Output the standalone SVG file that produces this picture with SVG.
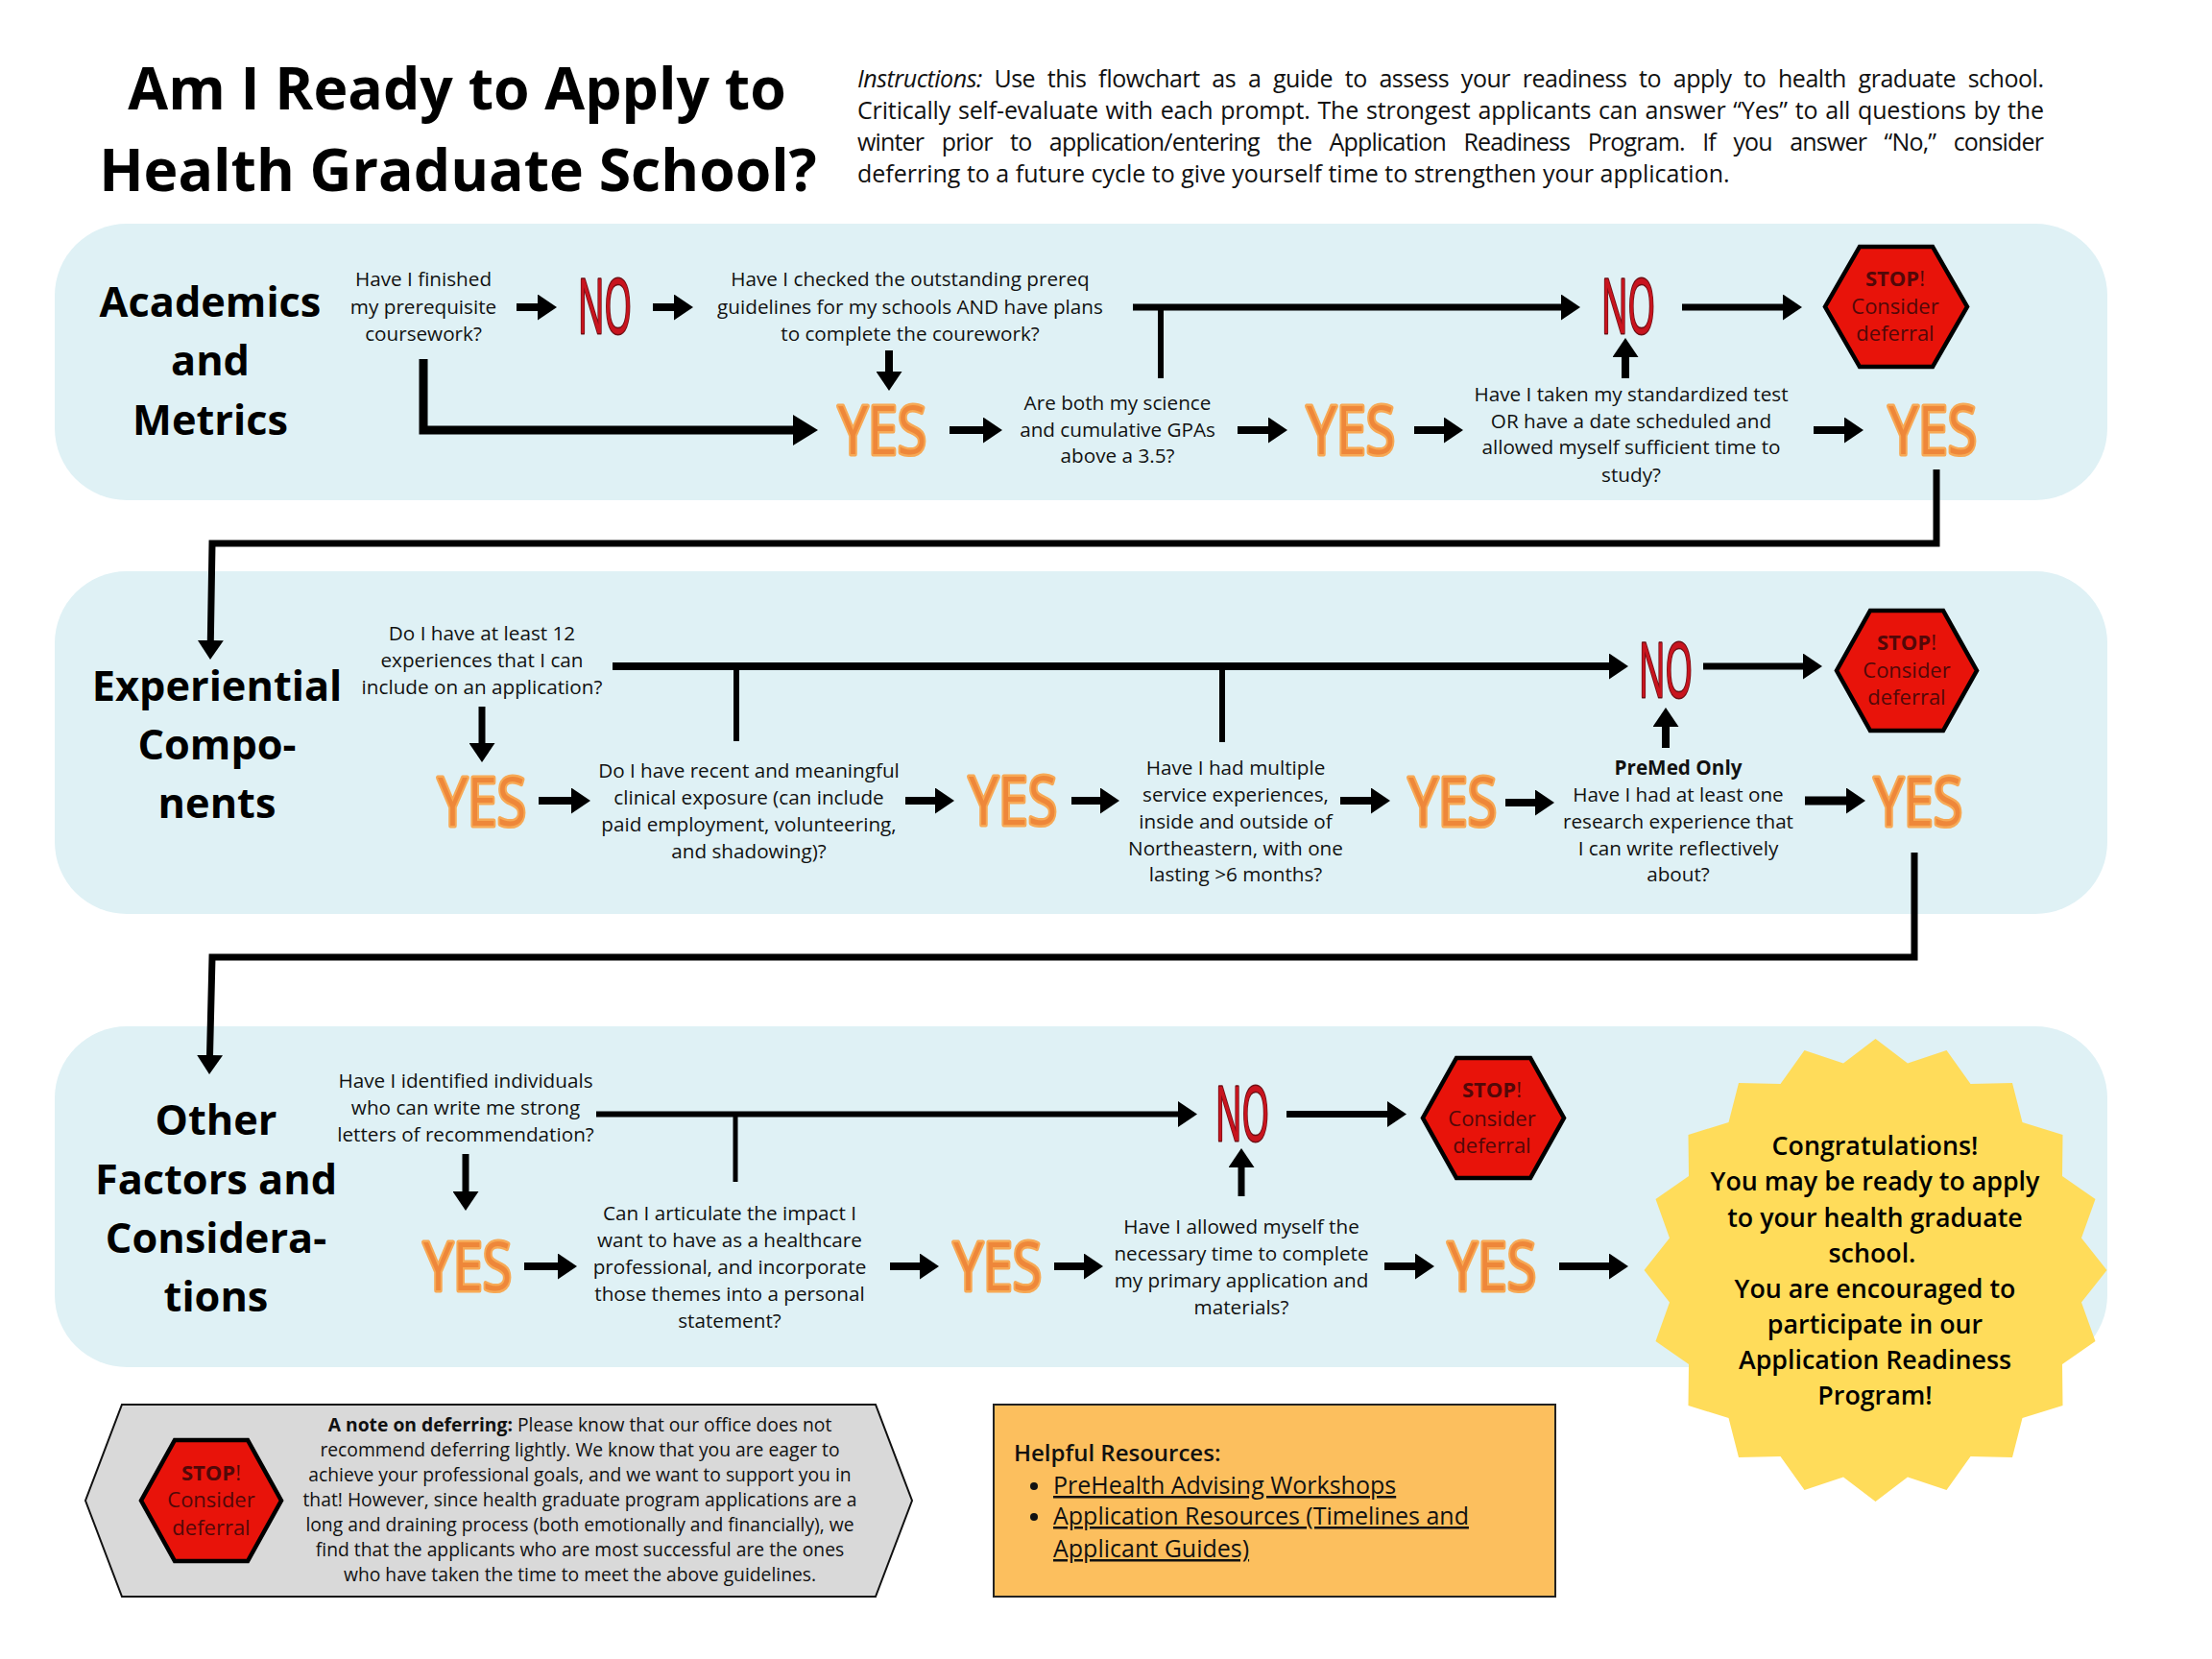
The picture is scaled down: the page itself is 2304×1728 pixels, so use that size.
<svg xmlns="http://www.w3.org/2000/svg" width="2304" height="1728" viewBox="0 0 2304 1728">
<defs>
<style>
text{font-family:"Open Sans","Noto Sans","Liberation Sans",sans-serif;fill:#111}
.title{font-size:60.7px;font-weight:700;text-anchor:middle;fill:#000}
.ins{font-size:25px}
.sec{font-size:43.3px;font-weight:700;text-anchor:middle;fill:#000}
.q{font-size:20.7px;text-anchor:middle}
.no{font-size:78px;fill:#c8141e;stroke:#6e0f14;stroke-width:3;stroke-linejoin:round;paint-order:stroke}
.yes{font-size:70px;font-weight:400;fill:#ee873a;stroke:#f7a955;stroke-width:5;stroke-linejoin:round;stroke-linecap:round;paint-order:stroke}
.hex{fill:#e8130a;stroke:#000;stroke-width:4.500}
.st{font-size:22px;text-anchor:middle;fill:#520808}
.panel{fill:#dff1f5}
.note{font-size:19.3px;text-anchor:middle}
.con{font-size:26.8px;font-weight:600;text-anchor:middle;fill:#000}
.res{font-size:25px}
.c{fill:none;stroke:#000;stroke-width:8}
.a{marker-end:url(#ah)}
.l{marker-end:url(#ahL)}
</style>
<marker id="ah" markerUnits="userSpaceOnUse" markerWidth="20" markerHeight="27" refX="1" refY="13.5" orient="auto"><path d="M0 0L20 13.5L0 27z" fill="#000"/></marker>
<marker id="ahL" markerUnits="userSpaceOnUse" markerWidth="26" markerHeight="32" refX="1" refY="16" orient="auto"><path d="M0 0L26 16L0 32z" fill="#000"/></marker>
</defs>
<rect width="2304" height="1728" fill="#fff"/>
<rect class="panel" x="57" y="233" width="2138" height="288" rx="75"/>
<rect class="panel" x="57" y="595" width="2138" height="357" rx="75"/>
<rect class="panel" x="57" y="1069" width="2138" height="355" rx="75"/>

<g id="title"><text class="title" x="476" y="114">Am I Ready to Apply to</text><text class="title" x="477" y="199">Health Graduate School?</text></g>
<g id="instructions">
<text class="ins" x="893" y="91" word-spacing="6.6" textLength="1236"><tspan font-style="italic">Instructions:</tspan> Use this flowchart as a guide to assess your readiness to apply to health graduate school.</text>
<text class="ins" x="893" y="124" word-spacing="1.4" textLength="1236">Critically self-evaluate with each prompt. The strongest applicants can answer “Yes” to all questions by the</text>
<text class="ins" x="893" y="157" word-spacing="12.8" textLength="1236">winter prior to application/entering the Application Readiness Program. If you answer “No,” consider</text>
<text class="ins" x="893" y="190">deferring to a future cycle to give yourself time to strengthen your application.</text>
</g>

<g id="connectors">
<path class="c a" d="M538 320H561"/>
<path class="c a" d="M680 320H703"/>
<path class="c a" d="M926 365V388"/>
<path class="c l" d="M441 374V448H827" style="stroke-width:9"/>
<path class="c a" d="M989 448H1025"/>
<path class="c" d="M1209 320V394" style="stroke-width:6"/>
<path class="c a" d="M1180 320H1627" style="stroke-width:7"/>
<path class="c a" d="M1752 320H1858" style="stroke-width:7"/>
<path class="c a" d="M1693 394V371"/>
<path class="c a" d="M1289 448H1322"/>
<path class="c a" d="M1473 448H1505"/>
<path class="c a" d="M1889 448H1922"/>
<path class="c a" d="M2017 489V566H221L219.3 668" style="stroke-width:7"/>

<path class="c a" d="M638 694H1677"/>
<path class="c" d="M767 694V772" style="stroke-width:6"/>
<path class="c" d="M1273 694V773" style="stroke-width:6"/>
<path class="c a" d="M502 736V775" style="stroke-width:7"/>
<path class="c a" d="M561 834H596"/>
<path class="c a" d="M943 834H975"/>
<path class="c a" d="M1116 834H1147"/>
<path class="c a" d="M1396 834H1429"/>
<path class="c a" d="M1568 836H1600"/>
<path class="c a" d="M1735 779V756"/>
<path class="c a" d="M1774 694H1879" style="stroke-width:7"/>
<path class="c a" d="M1880 834H1924" style="stroke-width:9"/>
<path class="c a" d="M1994 888V997H221L218.5 1100" style="stroke-width:7"/>

<path class="c a" d="M621 1160.500H1228" style="stroke-width:6"/>
<path class="c" d="M766 1161V1231" style="stroke-width:5"/>
<path class="c a" d="M485 1202V1242" style="stroke-width:7"/>
<path class="c a" d="M546 1319H582"/>
<path class="c a" d="M927 1319H959"/>
<path class="c a" d="M1098 1319H1130"/>
<path class="c a" d="M1293 1246V1215" style="stroke-width:7"/>
<path class="c a" d="M1340 1160.500H1446" style="stroke-width:7"/>
<path class="c a" d="M1442 1319H1475"/>
<path class="c a" d="M1624 1319H1677"/>
</g>

<g id="section-academics"><text class="sec" x="219" y="329.500">Academics</text><text class="sec" x="219" y="390.500">and</text><text class="sec" x="219" y="452.500">Metrics</text></g>
<g id="q-prereq"><text class="q" x="441" y="298">Have I finished</text><text class="q" x="441" y="327">my prerequisite</text><text class="q" x="441" y="355">coursework?</text></g>
<g id="no-1"><text class="no" x="602" y="347" textLength="56" lengthAdjust="spacingAndGlyphs">NO</text></g>
<g id="q-guidelines"><text class="q" x="948" y="298">Have I checked the outstanding prereq</text><text class="q" x="948" y="327">guidelines for my schools AND have plans</text><text class="q" x="948" y="355">to complete the courework?</text></g>
<g id="no-2"><text class="no" x="1668" y="347" textLength="56" lengthAdjust="spacingAndGlyphs">NO</text></g>
<g id="stop-1"><polygon class="hex" points="1937,257 2013,257 2049,319.500 2013,382 1937,382 1901,319.500"/><text class="st" x="1974" y="298"><tspan font-weight="700">STOP</tspan>!</text><text class="st" x="1974" y="327">Consider</text><text class="st" x="1974" y="355">deferral</text></g>
<g id="yes-1"><text class="yes" x="873" y="473" textLength="92" lengthAdjust="spacingAndGlyphs">YES</text></g>
<g id="q-gpa"><text class="q" x="1164" y="427">Are both my science</text><text class="q" x="1164" y="455">and cumulative GPAs</text><text class="q" x="1164" y="482">above a 3.5?</text></g>
<g id="yes-2"><text class="yes" x="1361" y="473" textLength="92" lengthAdjust="spacingAndGlyphs">YES</text></g>
<g id="q-test"><text class="q" x="1699" y="418">Have I taken my standardized test</text><text class="q" x="1699" y="446">OR have a date scheduled and</text><text class="q" x="1699" y="473">allowed myself sufficient time to</text><text class="q" x="1699" y="502">study?</text></g>
<g id="yes-3"><text class="yes" x="1967" y="473" textLength="92" lengthAdjust="spacingAndGlyphs">YES</text></g>

<g id="section-experiential"><text class="sec" x="226" y="729.500">Experiential</text><text class="sec" x="226" y="790.500">Compo-</text><text class="sec" x="226" y="851.500">nents</text></g>
<g id="q-experiences"><text class="q" x="502" y="667">Do I have at least 12</text><text class="q" x="502" y="695">experiences that I can</text><text class="q" x="502" y="723">include on an application?</text></g>
<g id="yes-4"><text class="yes" x="456" y="860" textLength="92" lengthAdjust="spacingAndGlyphs">YES</text></g>
<g id="q-clinical"><text class="q" x="780" y="810">Do I have recent and meaningful</text><text class="q" x="780" y="838">clinical exposure (can include</text><text class="q" x="780" y="866">paid employment, volunteering,</text><text class="q" x="780" y="894">and shadowing)?</text></g>
<g id="yes-5"><text class="yes" x="1009" y="859" textLength="92" lengthAdjust="spacingAndGlyphs">YES</text></g>
<g id="q-service"><text class="q" x="1287" y="807">Have I had multiple</text><text class="q" x="1287" y="835">service experiences,</text><text class="q" x="1287" y="863">inside and outside of</text><text class="q" x="1287" y="891">Northeastern, with one</text><text class="q" x="1287" y="918">lasting &gt;6 months?</text></g>
<g id="yes-6"><text class="yes" x="1467" y="860" textLength="92" lengthAdjust="spacingAndGlyphs">YES</text></g>
<g id="q-research"><text class="q" x="1748" y="807" font-weight="700">PreMed Only</text><text class="q" x="1748" y="835">Have I had at least one</text><text class="q" x="1748" y="863">research experience that</text><text class="q" x="1748" y="891">I can write reflectively</text><text class="q" x="1748" y="918">about?</text></g>
<g id="no-3"><text class="no" x="1707" y="726" textLength="56" lengthAdjust="spacingAndGlyphs">NO</text></g>
<g id="stop-2"><polygon class="hex" points="1948,636 2024,636 2059,698.500 2024,761 1948,761 1913,698.500"/><text class="st" x="1986" y="677"><tspan font-weight="700">STOP</tspan>!</text><text class="st" x="1986" y="706">Consider</text><text class="st" x="1986" y="734">deferral</text></g>
<g id="yes-7"><text class="yes" x="1952" y="860" textLength="92" lengthAdjust="spacingAndGlyphs">YES</text></g>

<g id="section-other"><text class="sec" x="225" y="1181.500">Other</text><text class="sec" x="225" y="1243.500">Factors and</text><text class="sec" x="225" y="1304.500">Considera-</text><text class="sec" x="225" y="1365.500">tions</text></g>
<g id="q-letters"><text class="q" x="485" y="1133">Have I identified individuals</text><text class="q" x="485" y="1161">who can write me strong</text><text class="q" x="485" y="1189">letters of recommendation?</text></g>
<g id="no-4"><text class="no" x="1266" y="1188" textLength="56" lengthAdjust="spacingAndGlyphs">NO</text></g>
<g id="stop-3"><polygon class="hex" points="1517,1102 1594,1102 1629,1164.500 1594,1227 1517,1227 1482,1164.500"/><text class="st" x="1554" y="1143"><tspan font-weight="700">STOP</tspan>!</text><text class="st" x="1554" y="1173">Consider</text><text class="st" x="1554" y="1201">deferral</text></g>
<g id="yes-8"><text class="yes" x="441" y="1344" textLength="92" lengthAdjust="spacingAndGlyphs">YES</text></g>
<g id="q-statement"><text class="q" x="760" y="1271">Can I articulate the impact I</text><text class="q" x="760" y="1299">want to have as a healthcare</text><text class="q" x="760" y="1327">professional, and incorporate</text><text class="q" x="760" y="1355">those themes into a personal</text><text class="q" x="760" y="1383">statement?</text></g>
<g id="yes-9"><text class="yes" x="993" y="1344" textLength="92" lengthAdjust="spacingAndGlyphs">YES</text></g>
<g id="q-time"><text class="q" x="1293" y="1285">Have I allowed myself the</text><text class="q" x="1293" y="1313">necessary time to complete</text><text class="q" x="1293" y="1341">my primary application and</text><text class="q" x="1293" y="1369">materials?</text></g>
<g id="yes-10"><text class="yes" x="1508" y="1344" textLength="92" lengthAdjust="spacingAndGlyphs">YES</text></g>

<g id="congratulations">
<polygon fill="#ffdc5a" points="1953.500,1082 1987,1107.500 2027.500,1094 2052.500,1129 2096,1128 2106.500,1169 2148.500,1182 2148,1225 2182.500,1249 2168,1289.500 2194.500,1323 2168,1356.500 2182.500,1397 2148,1421 2148.500,1464 2106.500,1477 2096,1518 2052.500,1517 2027.500,1552 1987,1538.500 1953.500,1564 1920,1538.500 1879.500,1552 1854.500,1517 1811,1518 1800.500,1477 1758.500,1464 1759,1421 1724.500,1397 1739,1356.500 1712.500,1323 1739,1289.500 1724.500,1249 1759,1225 1758.500,1182 1800.500,1169 1811,1128 1854.500,1129 1879.500,1094 1920,1107.500"/>
<text class="con" x="1953" y="1203">Congratulations!</text><text class="con" x="1953" y="1240">You may be ready to apply</text><text class="con" x="1953" y="1278">to your health graduate</text><text class="con" x="1950" y="1315">school.</text><text class="con" x="1953" y="1352">You are encouraged to</text><text class="con" x="1953" y="1389">participate in our</text><text class="con" x="1953" y="1426">Application Readiness</text><text class="con" x="1953" y="1463">Program!</text>
</g>

<g id="note">
<polygon points="127,1463 912,1463 950,1563 912,1663 127,1663 89,1563" fill="#d9d9d9" stroke="#111" stroke-width="2"/>
<polygon class="hex" points="182,1500 258,1500 293,1563 258,1626 182,1626 147,1563"/>
<text class="st" x="220" y="1542"><tspan font-weight="700">STOP</tspan>!</text><text class="st" x="220" y="1570">Consider</text><text class="st" x="220" y="1599">deferral</text>
<text class="note" x="604" y="1491"><tspan font-weight="700">A note on deferring:</tspan> Please know that our office does not</text>
<text class="note" x="604" y="1517">recommend deferring lightly. We know that you are eager to</text>
<text class="note" x="604" y="1543">achieve your professional goals, and we want to support you in</text>
<text class="note" x="604" y="1569">that! However, since health graduate program applications are a</text>
<text class="note" x="604" y="1595">long and draining process (both emotionally and financially), we</text>
<text class="note" x="604" y="1621">find that the applicants who are most successful are the ones</text>
<text class="note" x="604" y="1647">who have taken the time to meet the above guidelines.</text>
</g>

<g id="resources">
<rect x="1035" y="1463" width="585" height="200" fill="#fcbf5e" stroke="#222" stroke-width="2"/>
<text class="res" x="1056" y="1522" font-weight="600" style="font-size:24px">Helpful Resources:</text>
<circle cx="1077" cy="1548" r="4" fill="#111"/><circle cx="1077" cy="1580" r="4" fill="#111"/>
<text class="res" x="1097" y="1556" text-decoration="underline">PreHealth Advising Workshops</text>
<text class="res" x="1097" y="1588" text-decoration="underline">Application Resources (Timelines and</text>
<text class="res" x="1097" y="1622" text-decoration="underline">Applicant Guides)</text>
</g>
</svg>
